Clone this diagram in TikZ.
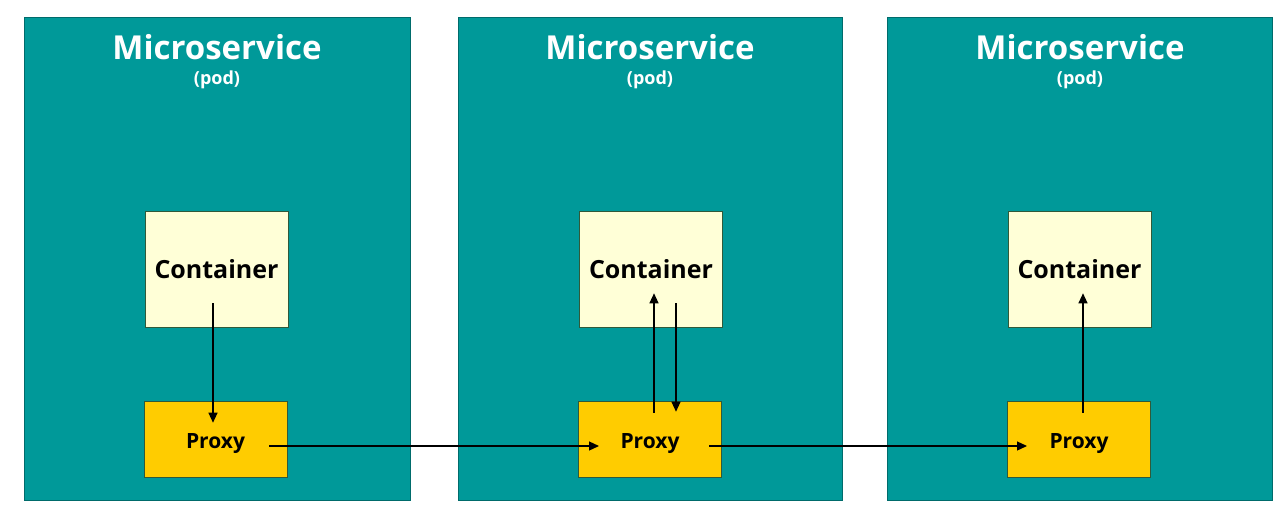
\documentclass[tikz,border=0pt]{standalone}
\usepackage{fontspec}
\setmainfont{Open Sans}
\usetikzlibrary{arrows.meta}
\definecolor{teal0}{HTML}{009999}
\definecolor{contfill}{HTML}{FFFFD7}
\definecolor{proxfill}{HTML}{FFCC00}
\definecolor{edge0}{HTML}{2F5A3A}
\tikzset{
  pod/.style={fill=teal0, draw=teal0!70!black, line width=0.6pt},
  contbox/.style={fill=contfill, draw=edge0, line width=0.6pt, minimum width=143pt, minimum height=116pt, inner sep=0pt, font=\bfseries\fontsize{25}{28}\selectfont},
  proxbox/.style={fill=proxfill, draw=edge0, line width=0.6pt, minimum width=143pt, minimum height=76pt, inner sep=0pt, text height=18pt, text depth=0pt, font=\bfseries\fontsize{21}{24}\selectfont},
  title/.style={text=white, font=\bfseries\fontsize{33}{36}\selectfont, inner sep=0pt},
  sub/.style={text=white, font=\bfseries\fontsize{18}{20}\selectfont, inner sep=0pt},
  conn/.style={line width=1.2pt, -{Triangle[length=10pt,width=9pt]}},
}
\begin{document}
\begin{tikzpicture}[x=1pt,y=-1pt]
\useasboundingbox (0,0) rectangle (1284,514);
\fill[white] (0,0) rectangle (1284,514);
% pods
\draw[pod] (24,17) rectangle (410,500);
\draw[pod] (458,17) rectangle (842,500);
\draw[pod] (887,17) rectangle (1272,500);
\node[title] (t1) at (217,47) {Microservice};
\node[title] (t2) at (650,47) {Microservice};
\node[title] (t3) at (1080,47) {Microservice};
\node[sub] (s1) at (217,80) {(pod)};
\node[sub] (s2) at (650,80) {(pod)};
\node[sub] (s3) at (1080,80) {(pod)};
% containers
\node[contbox] (c1) at (216.5,269) {Container};
\node[contbox] (c2) at (651,269) {Container};
\node[contbox] (c3) at (1079.5,269) {Container};
% proxies
\node[proxbox] (p1) at (215.5,439) {Proxy};
\node[proxbox] (p2) at (650,439) {Proxy};
\node[proxbox] (p3) at (1079,439) {Proxy};
% connectors
\draw[conn] ([shift={(-3.5,-24)}]c1.south) -- ([shift={(-2.5,22)}]p1.north);
\draw[conn] ([shift={(53.5,7)}]p1.center) -- ([shift={(-51,7)}]p2.center);
\draw[conn] ([shift={(59,7)}]p2.center) -- ([shift={(-52,7)}]p3.center);
\draw[conn] ([shift={(4,12)}]p2.north) -- ([shift={(3,-34)}]c2.south);
\draw[conn] ([shift={(25,-24)}]c2.south) -- ([shift={(26,11)}]p2.north);
\draw[conn] ([shift={(4,12)}]p3.north) -- ([shift={(3.5,-34)}]c3.south);
\end{tikzpicture}
\end{document}
